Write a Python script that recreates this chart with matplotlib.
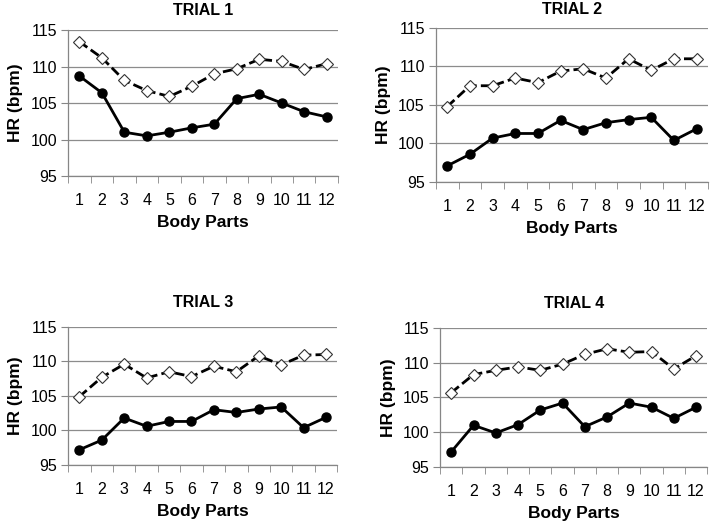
import matplotlib
matplotlib.use("Agg")
import matplotlib.pyplot as plt
import numpy as np

parts = np.arange(1, 13)

# dashed / open diamond series
t1_a = [113.4, 111.2, 108.1, 106.7, 105.9, 107.3, 109.0, 109.7, 111.0, 110.7, 109.6, 110.4]
t2_a = [104.8, 107.5, 107.5, 108.5, 107.9, 109.4, 109.7, 108.5, 111.0, 109.5, 111.0, 111.0]
t3_a = [104.9, 107.7, 109.6, 107.6, 108.5, 107.8, 109.3, 108.5, 110.8, 109.5, 110.9, 111.0]
t4_a = [105.7, 108.3, 108.9, 109.4, 108.9, 109.8, 111.2, 112.0, 111.5, 111.6, 109.1, 111.0]

# solid / filled circle series
t1_b = [108.7, 106.4, 101.0, 100.5, 101.0, 101.6, 102.1, 105.6, 106.2, 105.0, 103.8, 103.1]
t2_b = [97.1, 98.6, 100.7, 101.3, 101.3, 103.0, 101.8, 102.7, 103.1, 103.4, 100.4, 101.9]
t3_b = [97.2, 98.6, 101.8, 100.6, 101.3, 101.3, 103.0, 102.6, 103.1, 103.4, 100.4, 101.9]
t4_b = [97.2, 101.0, 99.9, 101.1, 103.2, 104.2, 100.8, 102.2, 104.2, 103.6, 102.0, 103.6]

titles = ["TRIAL 1", "TRIAL 2", "TRIAL 3", "TRIAL 4"]
yticks = [95, 100, 105, 110, 115]

plt.rcParams['font.family'] = ['Liberation Sans', 'DejaVu Sans']

fig = plt.figure(figsize=(7.1, 5.23), dpi=100)
boxes = [[0.096, 0.6635, 0.380, 0.279],
         [0.614, 0.652, 0.383, 0.2945],
         [0.096, 0.111, 0.379, 0.264],
         [0.620, 0.107, 0.376, 0.266]]
title_pads = [11, 10, 14, 14]
series = [(t1_a, t1_b), (t2_a, t2_b), (t3_a, t3_b), (t4_a, t4_b)]

axcol = "#868686"
for box, title, tpad, (a, b) in zip(boxes, titles, title_pads, series):
    ax = fig.add_axes(box)
    ax.plot(parts, a, color="black", lw=2, ls=(0, (3.5, 1.5)), marker="D",
            markersize=6.5, markerfacecolor="white", markeredgecolor="#333333",
            markeredgewidth=0.8, zorder=3)
    ax.plot(parts, b, color="black", lw=2, marker="o", markersize=6.5, zorder=3)
    ax.set_xlim(0.5, 12.5)
    ax.set_ylim(95, 115)
    ax.set_yticks(yticks)
    ax.set_xticks(parts)
    ax.set_xticks(np.arange(0.5, 13, 1), minor=True)
    ax.tick_params(axis="x", which="major", length=0, pad=12, labelsize=11.5)
    ax.tick_params(axis="x", which="minor", length=5, color=axcol, direction="out")
    ax.tick_params(axis="y", length=5, color=axcol, labelsize=11.5, pad=3)
    ax.yaxis.grid(True, color="#8c8c8c", lw=0.9)
    ax.set_axisbelow(True)
    for s in ["top", "right"]:
        ax.spines[s].set_visible(False)
    for s in ["left", "bottom"]:
        ax.spines[s].set_color(axcol)
        ax.spines[s].set_linewidth(0.9)
    ax.set_xlabel("Body Parts", fontsize=12.5, fontweight="bold", labelpad=5)
    ax.set_ylabel("HR (bpm)", fontsize=12.5, fontweight="bold", labelpad=5)
    ax.set_title(title, fontsize=11.5, fontweight="bold", pad=tpad)

fig.savefig("out.png", dpi=100)
